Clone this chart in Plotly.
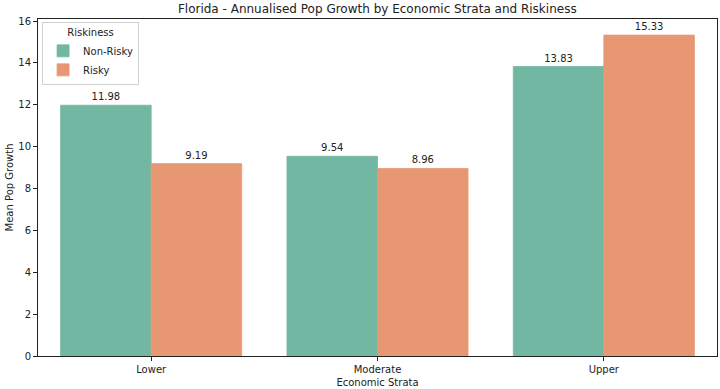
import plotly.graph_objects as go

categories = ["Lower", "Moderate", "Upper"]
non_risky = [11.98, 9.54, 13.83]
risky = [9.19, 8.96, 15.33]
series_names = ["Non-Risky", "Risky"]
colors = ["#72b7a1", "#e89773"]
y_ticks = [0, 2, 4, 6, 8, 10, 12, 14, 16]

font = "DejaVu Sans, Arial, sans-serif"

fig = go.Figure()
for name, vals, col in zip(series_names, [non_risky, risky], colors):
    fig.add_trace(go.Bar(
        x=categories, y=vals, name=name,
        marker=dict(color=col, line=dict(color=col, width=0.8)),
        text=[f"{v:.2f}" for v in vals], textposition="outside",
        textfont=dict(family=font, size=10, color="#222"),
        cliponaxis=False,
    ))

fig.update_layout(
    width=720, height=389,
    margin=dict(l=38, r=3, t=19, b=33),
    paper_bgcolor="white", plot_bgcolor="white",
    barmode="group", bargap=0.2, bargroupgap=0,
    font=dict(family=font, size=10, color="#222"),
    title=dict(text="Florida - Annualised Pop Growth by Economic Strata and Riskiness",
               x=0.524, xanchor="center", y=0.977, yanchor="middle",
               font=dict(size=12, color="#222")),
    showlegend=True,
    legend=dict(x=0.006, y=0.99, xanchor="left", yanchor="top",
                bgcolor="rgba(255,255,255,0.8)", bordercolor="#d0d0d0", borderwidth=1,
                title=dict(text="Riskiness", side="top center", font=dict(size=10)),
                font=dict(size=10), itemwidth=30, tracegroupgap=0),
    uniformtext=dict(minsize=10, mode="show"),
)
fig.update_xaxes(
    range=[-0.5, 2.5], showline=True, linecolor="#222", linewidth=1, mirror=True,
    ticks="outside", ticklen=4, tickcolor="#222", showgrid=False,
    title=dict(text="Economic Strata", font=dict(size=10), standoff=4),
    tickfont=dict(size=10),
)
fig.update_yaxes(
    range=[0, 16.1], tickvals=y_ticks, showline=True, linecolor="#222", linewidth=1, mirror=True,
    ticks="outside", ticklen=4, tickcolor="#222", showgrid=False, zeroline=False,
    title=dict(text="Mean Pop Growth", font=dict(size=10), standoff=2),
    tickfont=dict(size=10),
)

fig.write_html(
    "out.html",
    config={"displayModeBar": False},
    post_script="document.body.style.margin='0';document.body.style.overflow='hidden';",
)
